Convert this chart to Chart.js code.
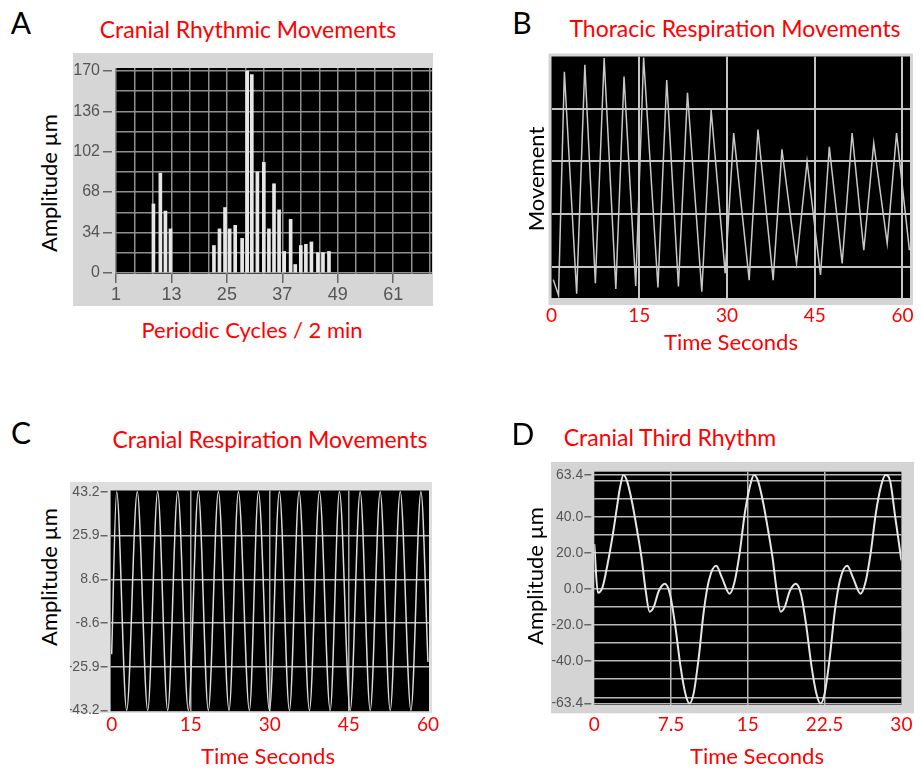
<!DOCTYPE html>
<html>
<head>
<meta charset="utf-8">
<script src="https://cdn.jsdelivr.net/npm/chart.js@4.4.1/dist/chart.umd.min.js"></script>
<style>
    body { margin: 0; background: #fff; width: 921px; height: 769px; position: relative; overflow: hidden; font-family: Lato, 'Open Sans', sans-serif; }
    .box { position: absolute; }
    .t { position: absolute; transform: translate(-50%, -50%); line-height: 1; white-space: nowrap; }
    .rot { transform: translate(-50%, -50%) rotate(-90deg); }
    .red { color: #ff0000; }
    .letter { font-size: 30px; color: #000; }
    .ttl { font-size: 23px; }
    .ax { font-size: 22px; }
</style>
</head>
<body>

<div class="box" style="left:73px;top:53px;width:360px;height:253px"><canvas id="chartA"></canvas></div>
<div class="box" style="left:540px;top:45px;width:381px;height:290px"><canvas id="chartB"></canvas></div>
<div class="box" style="left:70px;top:478px;width:375px;height:267px"><canvas id="chartC"></canvas></div>
<div class="box" style="left:551px;top:460px;width:370px;height:285px"><canvas id="chartD"></canvas></div>

<!-- 标题和轴标题 -->
<div class="t letter" style="left:21px;top:22px">A</div>
<div class="t ttl red" style="left:248px;top:29px">Cranial Rhythmic Movements</div>
<div class="t ax rot" style="left:49px;top:183px">Amplitude µm</div>
<div class="t ax red" style="left:252px;top:330px">Periodic Cycles / 2 min</div>

<div class="t letter" style="left:522px;top:22px">B</div>
<div class="t ttl red" style="left:735px;top:28px">Thoracic Respiration Movements</div>
<div class="t ax rot" style="left:536px;top:179px">Movement</div>
<div class="t ax red" style="left:731px;top:342px">Time Seconds</div>

<div class="t letter" style="left:21px;top:432px">C</div>
<div class="t ttl red" style="left:270px;top:439px">Cranial Respiration Movements</div>
<div class="t ax rot" style="left:49px;top:577px">Amplitude µm</div>
<div class="t ax red" style="left:268px;top:756px">Time Seconds</div>

<div class="t letter" style="left:523px;top:433px">D</div>
<div class="t ttl red" style="left:670px;top:437px">Cranial Third Rhythm</div>
<div class="t ax rot" style="left:535px;top:576px">Amplitude µm</div>
<div class="t ax red" style="left:757px;top:756px">Time Seconds</div>

<script>
// === 数据 ===
// A: Cranial Rhythmic Movements
const cyclesA = [9.1, 10.6, 11.7, 12.8, 22.2, 23.4, 24.6, 25.6, 26.8, 28.3, 29.4, 30.4, 31.6, 33.0,
                 34.1, 35.2, 36.3, 37.4, 38.8, 39.8, 41.0, 42.1, 43.3, 44.7, 45.8, 47.1];
const amplitudeA = [58, 84, 52, 37, 23, 37, 55, 37, 40, 29, 170, 167, 85, 93,
                    37, 75, 53, 18, 45, 7, 23, 24, 26, 17, 17, 18];
const xTicksA = [1, 13, 25, 37, 49, 61];
const yTicksA = [0, 34, 68, 102, 136, 170];
const xGridA = [1, 5, 9, 13, 17, 21, 25, 29, 33, 37, 41, 45, 49, 53, 57, 61, 65, 69];
const yGridA = [0, 17, 34, 51, 68, 85, 102, 119, 136, 153, 170];

// B: Thoracic Respiration Movements (峰/谷)
const timeB = [0.3, 1.2, 2.2, 4.3, 5.7, 7.5, 9.0, 11.0, 12.4, 14.4, 15.75, 18.2, 19.7, 21.7, 23.25, 25.7, 27.3,
               29.7, 31.15, 33.8, 35.3, 37.9, 39.4, 41.9, 43.7, 46.0, 47.5, 49.7, 51.4, 53.4, 55.1, 57.4, 59.0, 61.2];
const movementB = [-0.25, -0.55, 3.71, -0.52, 3.84, -0.32, 3.97, -0.43, 3.62, -0.37, 3.98, -0.4, 3.55, -0.38, 3.31, -0.48, 2.98,
                   -0.13, 2.54, -0.26, 2.61, -0.26, 2.23, 0.06, 2.0, -0.16, 2.28, 0.06, 2.54, 0.31, 2.35, 0.44, 2.54, 0.31];
const xTicksB = [0, 15, 30, 45, 60];
const yGridB = [0, 1, 2, 3];

// C: Cranial Respiration Movements
const timeC = [0, 0.95, 2.85, 4.86, 6.84, 8.73, 10.63, 12.53, 14.55, 16.44, 18.34, 20.24, 22.27, 24.04, 26.13, 27.84,
               29.93, 31.82, 33.72, 35.56, 37.52, 39.42, 41.45, 43.21, 45.25, 47.14, 49.05, 50.94, 52.84, 54.74, 56.77, 58.67, 60];
const amplitudeC = [-21, 43.2, -43.2, 43.2, -43.2, 43.2, -43.2, 43.2, -43.2, 43.2, -43.2, 43.2, -43.2, 43.2, -43.2, 43.2,
                    -43.2, 43.2, -43.2, 43.2, -43.2, 43.2, -43.2, 43.2, -43.2, 43.2, -43.2, 43.2, -43.2, 43.2, -43.2, 43.2, -24];
const xTicksC = [0, 15, 30, 45, 60];
const yTicksC = [-43.2, -25.9, -8.6, 8.6, 25.9, 43.2];

// D: Cranial Third Rhythm
const timeD = [0, 0.35, 0.8, 1.3, 1.8, 2.2, 2.5, 2.85, 3.2, 3.7, 4.2, 4.6, 5.0, 5.4, 5.8, 6.3, 6.9, 7.4,
               7.9, 8.4, 8.9, 9.3, 9.7, 10.2, 10.7, 11.2, 11.9, 12.5, 13.2, 13.7, 14.2, 14.7, 15.2, 15.6, 16.0, 16.5, 17.0, 17.4,
               17.8, 18.2, 18.6, 19.1, 19.7, 20.2, 20.7, 21.2, 21.7, 22.1, 22.5, 23.0, 23.5, 24.0, 24.7, 25.3, 26.0, 26.5, 27.0, 27.5,
               28.0, 28.45, 28.9, 29.4, 30];
const amplitudeD = [25, -2, 1, 14, 30, 45, 56, 63.4, 60, 48, 32, 18, 0, -12.5, -10, -1, 3, -3,
                    -20, -42, -58, -63.4, -58, -38, -12, 5, 13, 6, -2.5, 4, 20, 42, 57, 63.4, 60, 48, 32, 18,
                    0, -12.5, -10, -1, 3, -3, -20, -42, -58, -63.4, -58, -38, -12, 5, 13, 6, -2.5, 4, 20, 42,
                    57, 63.4, 60, 40, 16];
const xTicksD = [0, 7.5, 15, 22.5, 30];
const yTicksD = [-63.4, -40, -20, 0, 20, 40, 63.4];
const yGridD = [-63.4, -60, -50, -40, -30, -20, -10, 0, 10, 20, 30, 40, 50, 60, 63.4];

// === 通用 ===
const grayFont = size => ({ family: "'Liberation Sans', Arial, sans-serif", size: size });
const redFont = { family: "Lato, 'Open Sans', sans-serif", size: 19 };
const fixWidth = w => s => { s.width = w; };
const fixHeight = h => s => { s.height = h; };
const useTicks = list => s => { s.ticks = list.map(v => ({ value: v })); };
const pts = (xs, ys) => xs.map((x, i) => ({ x: x, y: ys[i] }));
const tv = c => (c.tick ? c.tick.value : null);

// 灰色外框 + 黑色绘图区
const panelBg = {
    id: 'panelBg',
    beforeDraw(chart, args, opts) {
        const { ctx, chartArea: a } = chart;
        ctx.save();
        if (opts.frame) {
            const f = opts.frame;
            ctx.fillStyle = opts.frameColor;
            ctx.fillRect(f[0], f[1], f[2] - f[0], f[3] - f[1]);
        }
        ctx.fillStyle = '#000';
        ctx.fillRect(a.left, a.top, a.right - a.left, a.bottom - a.top);
        ctx.restore();
    }
};

const base = (pad, frame, frameColor) => ({
    animation: false,
    responsive: true,
    maintainAspectRatio: false,
    layout: { padding: pad },
    plugins: {
        legend: { display: false },
        tooltip: { enabled: false },
        panelBg: { frame: frame, frameColor: frameColor }
    }
});

// === A ===
const optA = base({ left: 0, top: 15, right: 1, bottom: 0 }, [0, 0, 360, 253], '#d6d6d6');
optA.scales = {
    x: {
        type: 'linear', min: 1, max: 69.4, offset: false,
        afterBuildTicks: useTicks(xGridA), afterFit: fixHeight(32),
        border: { display: false },
        grid: { offset: false, color: '#8f8f8f', lineWidth: 1.5, tickLength: 9,
                tickColor: c => xTicksA.includes(tv(c)) ? '#666' : 'transparent', tickWidth: 1.5 },
        ticks: { autoSkip: false, maxRotation: 0, padding: 1, color: '#555', font: grayFont(18),
                 callback: v => xTicksA.includes(v) ? String(v) : '' }
    },
    y: {
        min: -1, max: 172.5,
        afterBuildTicks: useTicks(yGridA), afterFit: fixWidth(43),
        border: { display: false },
        grid: { color: '#8f8f8f', lineWidth: 1.5, tickLength: 13, tickBorderDash: [9, 20],
                tickColor: c => yTicksA.includes(tv(c)) ? '#666' : 'transparent', tickWidth: 1.5 },
        ticks: { autoSkip: false, padding: 3, color: '#555', font: grayFont(16),
                 callback: v => yTicksA.includes(v) ? String(v) : '' }
    }
};
new Chart(document.getElementById('chartA'), {
    type: 'bar',
    data: { datasets: [{ data: pts(cyclesA, amplitudeA), backgroundColor: '#e6e6e6', barThickness: 3 }] },
    options: optA,
    plugins: [panelBg]
});

// === B ===
const optB = base({ left: 11, top: 11.5, right: 11, bottom: 7 }, [8.5, 8.5, 373, 260], '#d4d4d4');
optB.scales = {
    x: {
        type: 'linear', min: 0, max: 61.3,
        afterBuildTicks: useTicks(xTicksB), afterFit: fixHeight(30),
        border: { display: false },
        grid: { drawTicks: false, lineWidth: 2, color: c => tv(c) === 0 ? 'transparent' : '#c4c4c4' },
        ticks: { autoSkip: false, maxRotation: 0, padding: 6, color: '#ff0000', font: redFont }
    },
    y: {
        min: -0.6, max: 4.0,
        afterBuildTicks: useTicks(yGridB), afterFit: fixWidth(0),
        border: { display: false },
        grid: { drawTicks: false, lineWidth: 2, color: '#c4c4c4' },
        ticks: { display: false }
    }
};
new Chart(document.getElementById('chartB'), {
    type: 'line',
    data: { datasets: [{ data: pts(timeB, movementB), borderColor: '#c8c8c8', borderWidth: 1.5, pointRadius: 0, tension: 0 }] },
    options: optB,
    plugins: [panelBg]
});

// === C ===
const optC = base({ left: 0, top: 12.5, right: 16, bottom: 3.8 }, [0, 4, 362, 235], '#dedede');
optC.scales = {
    x: {
        type: 'linear', min: -0.2, max: 60.2,
        afterBuildTicks: useTicks(xTicksC), afterFit: fixHeight(30),
        border: { display: false },
        grid: { drawTicks: false, lineWidth: 1.5, color: c => (tv(c) === 0 || tv(c) === 60) ? 'transparent' : '#a8a8a8' },
        ticks: { autoSkip: false, maxRotation: 0, padding: 2.4, color: '#ff0000', font: redFont }
    },
    y: {
        min: -43.5, max: 43.7,
        afterBuildTicks: useTicks(yTicksC), afterFit: fixWidth(40.6),
        border: { display: false },
        grid: { lineWidth: 1.5, color: c => Math.abs(tv(c)) === 43.2 ? 'transparent' : '#bdbdbd',
                tickLength: 10, tickBorderDash: [7, 20], tickColor: '#666', tickWidth: 1.5 },
        ticks: { autoSkip: false, padding: 1, color: '#555', font: grayFont(14), callback: v => v.toFixed(1) }
    }
};
new Chart(document.getElementById('chartC'), {
    type: 'line',
    data: { datasets: [{ data: pts(timeC, amplitudeC), borderColor: '#dcdcdc', borderWidth: 1.5, pointRadius: 0, cubicInterpolationMode: 'monotone' }] },
    options: optC,
    plugins: [panelBg]
});

// === D ===
const optD = base({ left: 0, top: 11.7, right: 11.7, bottom: 10 }, [0, 2, 363, 253.3], '#d4d4d4');
optD.scales = {
    x: {
        type: 'linear', min: 0, max: 30,
        afterBuildTicks: useTicks(xTicksD), afterFit: fixHeight(30),
        border: { display: false },
        grid: { drawTicks: false, lineWidth: 1.5, color: c => (tv(c) === 0 || tv(c) === 30) ? 'transparent' : '#b8b8b8' },
        ticks: { autoSkip: false, maxRotation: 0, padding: 8.6, color: '#ff0000', font: redFont,
                 callback: v => String(v) }
    },
    y: {
        min: -64.3, max: 65.2,
        afterBuildTicks: useTicks(yGridD), afterFit: fixWidth(43.3),
        border: { display: false },
        grid: { lineWidth: 1.5, color: '#b8b8b8',
                tickLength: 10, tickBorderDash: [7, 20], tickWidth: 1.5,
                tickColor: c => yTicksD.includes(tv(c)) ? '#666' : 'transparent' },
        ticks: { autoSkip: false, padding: 1, color: '#555', font: grayFont(14),
                 callback: v => yTicksD.includes(v) ? v.toFixed(1) : '' }
    }
};
new Chart(document.getElementById('chartD'), {
    type: 'line',
    data: { datasets: [{ data: pts(timeD, amplitudeD), borderColor: '#e6e6e6', borderWidth: 2, pointRadius: 0, cubicInterpolationMode: 'monotone' }] },
    options: optD,
    plugins: [panelBg]
});
</script>
</body>
</html>
